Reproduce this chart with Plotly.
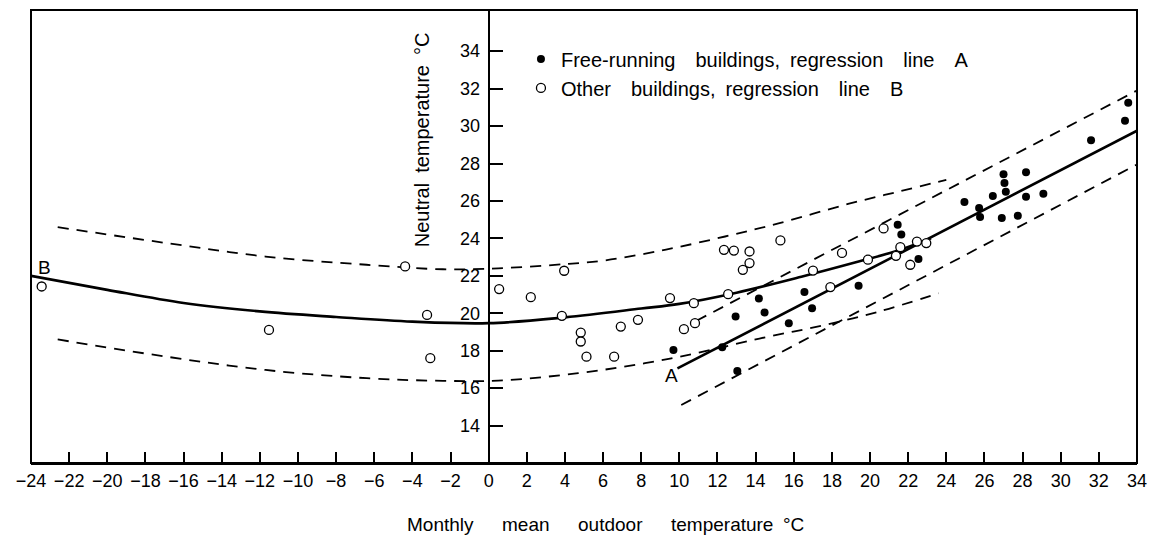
import plotly.graph_objects as go

# monthly mean outdoor temperature (x) vs neutral temperature (y)
free_x = [9.69, 12.25, 13.04, 12.95, 14.17, 14.47, 15.74, 16.56, 16.96, 19.40,
          21.45, 21.64, 22.54, 24.95, 25.72, 25.77, 26.44, 26.91, 27.00, 27.05,
          27.12, 27.75, 28.18, 28.18, 29.09, 31.59, 33.37, 33.54]
free_y = [18.04, 18.19, 16.92, 19.82, 20.79, 20.04, 19.47, 21.14, 20.27, 21.47,
          24.73, 24.21, 22.90, 25.94, 25.62, 25.14, 26.26, 25.09, 27.42, 26.96,
          26.49, 25.21, 27.53, 26.23, 26.38, 29.24, 30.28, 31.24]

other_x = [-23.44, -11.52, -4.38, -3.23, -3.06, 0.55, 2.21, 3.96, 3.84, 4.83,
           4.83, 5.13, 6.58, 6.93, 7.83, 9.51, 10.24, 10.76, 10.82, 12.34,
           12.86, 12.56, 13.33, 13.68, 13.68, 15.30, 17.01, 17.92, 18.53, 19.89,
           20.71, 21.36, 21.59, 22.11, 22.46, 22.95]
other_y = [21.43, 19.11, 22.50, 19.91, 17.60, 21.29, 20.86, 22.27, 19.86, 18.97,
           18.49, 17.68, 17.68, 19.29, 19.65, 20.81, 19.15, 20.54, 19.47, 23.39,
           23.35, 21.02, 22.32, 23.30, 22.68, 23.89, 22.28, 21.40, 23.22, 22.86,
           24.53, 23.07, 23.53, 22.59, 23.83, 23.75]

# regression line B and its band (dashed)
line_b_x = [-24, -20, -16, -12, -8, -4, 0, 4, 8, 10, 13, 16.4, 19.4, 21.3, 23.2]
line_b_y = [22.0, 21.25, 20.55, 20.1, 19.8, 19.55, 19.47, 19.78, 20.25, 20.5,
            21.1, 21.95, 22.76, 23.3, 24.0]
band_b_hi_x = [-22.6, -16.9, -11.7, -6.4, -2.4, 0.5, 4.2, 6.1, 9.3, 12.4, 15.2, 18.9, 21.5, 24.0]
band_b_hi_y = [24.6, 23.75, 23.03, 22.59, 22.35, 22.4, 22.64, 22.82, 23.4, 24.1,
               24.8, 25.85, 26.5, 27.13]
band_b_lo_x = [-22.6, -16.9, -11.7, -6.4, -2.4, 0.5, 4.7, 8.2, 10.8, 14.2, 17.3, 20.5, 23.6]
band_b_lo_y = [18.6, 17.68, 16.97, 16.53, 16.39, 16.4, 16.8, 17.33, 17.85, 18.65,
               19.3, 20.1, 21.07]

# regression line A and its band
line_a_x = [9.9, 34]
line_a_y = [17.05, 29.75]
band_a_hi_x = [10.9, 34]
band_a_hi_y = [19.6, 31.9]
band_a_lo_x = [10.1, 34]
band_a_lo_y = [15.1, 27.95]

x_ticks = list(range(-24, 35, 2))
y_ticks = list(range(14, 35, 2))

FONT = "Liberation Sans, Arial, sans-serif"
SP = "\u2002"
GAP = SP * 2

fig = go.Figure()

solid = dict(color="black", width=2.6)
dashed = dict(color="black", width=1.8, dash="11px,8px")

fig.add_trace(go.Scatter(x=line_b_x, y=line_b_y, mode="lines", line=dict(shape="spline", **solid), showlegend=False))
fig.add_trace(go.Scatter(x=band_b_hi_x, y=band_b_hi_y, mode="lines", line=dict(shape="spline", **dashed), showlegend=False))
fig.add_trace(go.Scatter(x=band_b_lo_x, y=band_b_lo_y, mode="lines", line=dict(shape="spline", **dashed), showlegend=False))
fig.add_trace(go.Scatter(x=line_a_x, y=line_a_y, mode="lines", line=solid, showlegend=False))
fig.add_trace(go.Scatter(x=band_a_hi_x, y=band_a_hi_y, mode="lines", line=dashed, showlegend=False))
fig.add_trace(go.Scatter(x=band_a_lo_x, y=band_a_lo_y, mode="lines", line=dashed, showlegend=False))

fig.add_trace(go.Scatter(
    x=other_x, y=other_y, mode="markers", legendgroup="b", legendrank=2,
    name=f"Other{GAP}buildings,{SP}regression{GAP}line{GAP}B",
    marker=dict(symbol="circle", size=9, color="white", line=dict(color="black", width=1.3)),
))
# filled dots drawn last so they sit above the open circles
fig.add_trace(go.Scatter(
    x=free_x, y=free_y, mode="markers", legendgroup="a", legendrank=1,
    name=f"Free-running{GAP}buildings,{SP}regression{GAP}line{GAP}A",
    marker=dict(symbol="circle", size=8, color="black"),
))

fig.add_annotation(x=-23.27, y=22.45, text="B", showarrow=False, font=dict(size=19, color="black"))
fig.add_annotation(x=9.61, y=16.7, text="A", showarrow=False, font=dict(size=19, color="black"))

fig.add_annotation(
    x=0.3538, y=0.713, xref="paper", yref="paper", textangle=-90,
    xanchor="center", yanchor="middle",
    text=f"Neutral{SP}temperature{SP}°C", showarrow=False,
    font=dict(size=20, color="black"),
)
fig.add_annotation(
    x=0.519, y=-0.135, xref="paper", yref="paper", xanchor="center", yanchor="middle",
    text=f"Monthly{SP * 3}mean{SP * 3}outdoor{SP * 3}temperature{SP}°C", showarrow=False,
    font=dict(size=19, color="black"),
)

fig.add_shape(type="rect", xref="paper", yref="paper", x0=0, y0=0, x1=1, y1=1,
              line=dict(color="black", width=2))

fig.update_layout(
    width=1157, height=538,
    margin=dict(l=31, r=18, t=10, b=75),
    paper_bgcolor="white", plot_bgcolor="white",
    font=dict(family=FONT, color="black", size=18),
    xaxis=dict(
        range=[-24, 34], tickvals=x_ticks, ticks="inside", ticklen=11, tickwidth=1.5,
        tickcolor="black", showline=True, linecolor="black", linewidth=2,
        showgrid=False, zeroline=False, tickfont=dict(size=18),
    ),
    yaxis=dict(
        range=[12, 36.2], tickvals=y_ticks, ticks="inside", ticklen=13, tickwidth=1.5,
        tickcolor="black", showline=True, linecolor="black", linewidth=2,
        anchor="free", position=24 / 58, side="left", ticklabelstandoff=4,
        showgrid=False, zeroline=False, tickfont=dict(size=18),
    ),
    legend=dict(
        x=0.443, y=0.935, xanchor="left", yanchor="top", bgcolor="rgba(0,0,0,0)",
        font=dict(size=20), traceorder="grouped", tracegroupgap=0,
    ),
)

# the page body keeps an 8px margin by default; drop it so the figure fills the window
fig.write_html("out.html", config={"displayModeBar": False},
               post_script="document.body.style.margin='0px';")
